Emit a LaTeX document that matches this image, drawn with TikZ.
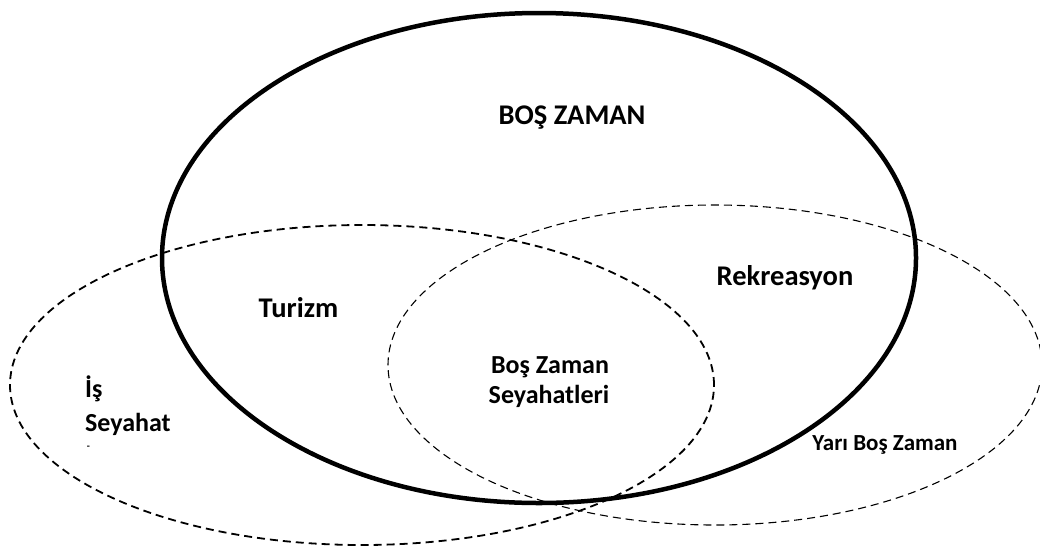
\documentclass[tikz,border=0pt]{standalone}
\usepackage{fontspec}
\setmainfont{Carlito}
\usetikzlibrary{shapes.geometric}
\begin{document}
\begin{tikzpicture}[x=1pt,y=-1pt,
  bigset/.style={ellipse,draw=black,line width=4.5pt,inner sep=0pt,outer sep=0pt},
  leftset/.style={ellipse,draw=black,line width=1.8pt,dash pattern=on 8pt off 5pt,inner sep=0pt,outer sep=0pt},
  rightset/.style={ellipse,draw=black,line width=1.1pt,dash pattern=on 8pt off 5pt,inner sep=0pt,outer sep=0pt},
  lbl/.style={font=\bfseries\fontsize{26}{31}\selectfont,inner sep=0pt,anchor=base},
  blbl/.style={font=\bfseries\fontsize{28.5}{34}\selectfont,inner sep=0pt,anchor=base},
  slbl/.style={font=\bfseries\fontsize{23}{27}\selectfont,inner sep=0pt,anchor=base}]
\useasboundingbox (0,0) rectangle (1040,547);
\fill[white] (0,0) rectangle (1040,547);
\node[leftset,minimum width=704pt,minimum height=320pt] (is) at (362,385) {};
\node[rightset,minimum width=654pt,minimum height=320pt] (yari) at (715,365) {};
\node[bigset,minimum width=754pt,minimum height=490pt] (bos) at (539,258) {};
\node[blbl] (tBos) at (572,124) {BOŞ ZAMAN};
\node[blbl] (tRek) at (785,285) {Rekreasyon};
\node[blbl] (tTur) at (298.5,317) {Turizm};
\node[lbl] (tBZ1) at (550,373) {Boş Zaman};
\node[lbl] (tBZ2) at (549,403) {Seyahatleri};
\node[lbl,anchor=base west] (tIs) at (85,397) {İş};
\node[lbl,anchor=base west] (tSey) at (85,431) {Seyahat};
\node[font=\bfseries\fontsize{10}{12}\selectfont,inner sep=0pt] (tDash) at (88.5,447.5) {-};
\node[slbl] (tYari) at (885,450) {Yarı Boş Zaman};
\end{tikzpicture}
\end{document}
